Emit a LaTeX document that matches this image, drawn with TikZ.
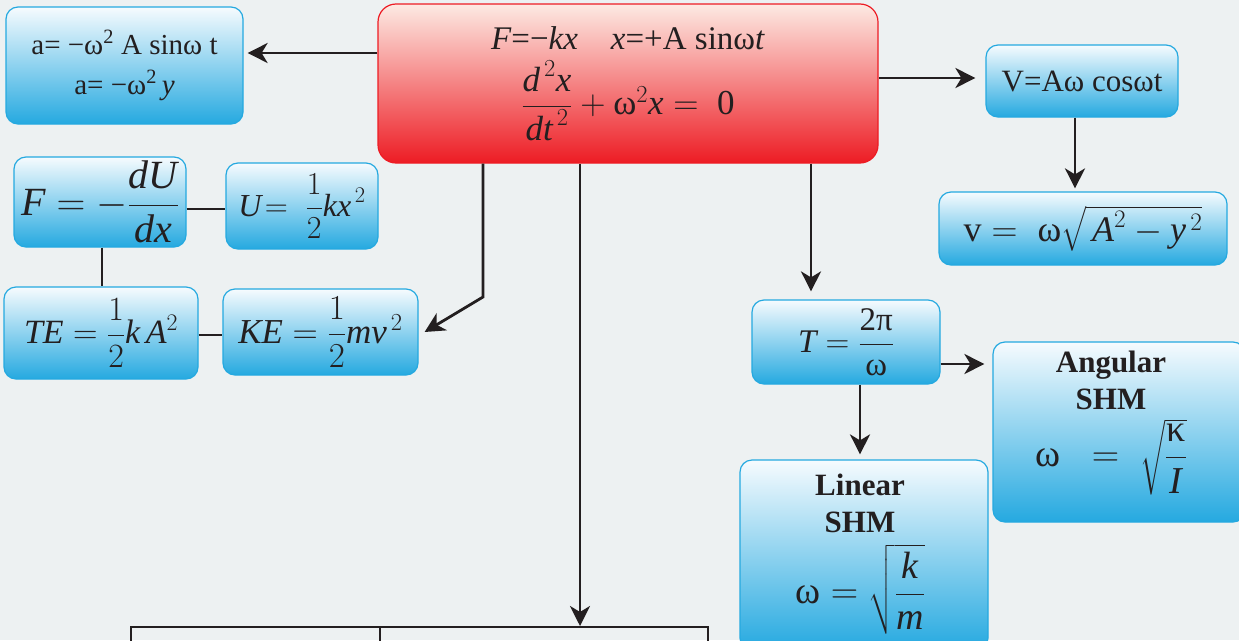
\documentclass[tikz,border=0pt]{standalone}
\usepackage{fix-cm}
\usepackage{amsmath}
\usepackage{fontspec}
\setmainfont{Liberation Serif}
\usetikzlibrary{arrows.meta}
\definecolor{bg}{HTML}{EDF1F2}
\definecolor{bblue}{HTML}{25A9E0}
\definecolor{btop}{HTML}{F6FBFE}
\definecolor{rred}{HTML}{ED1C24}
\definecolor{rtop}{HTML}{FDEAE3}
\definecolor{ink}{HTML}{231F20}
\newcommand{\tw}{\text{ω}}
\newcommand{\fs}[2]{\fontsize{#1}{#2}\selectfont}
\tikzset{
  bluebox/.style={draw=bblue, line width=1.2pt, rounded corners=12pt, top color=btop, bottom color=bblue, inner sep=2pt, align=center, text=ink},
  redbox/.style={draw=rred, line width=1.2pt, rounded corners=18pt, top color=rtop, bottom color=rred, inner sep=2pt, align=center, text=ink},
  txt/.style={inner sep=0pt, align=center, text=ink},
  conn/.style={line width=2.8pt, draw=ink},
  arr/.style={conn, -{Stealth[length=20pt,width=20pt,inset=6pt]}}
}
\begin{document}
\begin{tikzpicture}[x=1pt,y=-1pt]
\clip (0,0) rectangle (1239,640);
\useasboundingbox (0,0) rectangle (1239,640);
\fill[bg] (0,0) rectangle (1239,640);

% boxes
\node[bluebox, minimum width=237pt, minimum height=117pt, font=\fs{29}{40}] (a) at (124.5,65.5)
  {a= −ω\textsuperscript{2} A sinω t\\ a= −ω\textsuperscript{2}\,\textit{y}};
\node[redbox, minimum width=500pt, minimum height=159pt, font=\fs{33}{40}] (red) at (628,83.5)
  {\textit{F}=−\textit{kx}\quad \textit{x}=+A sinω\textit{t}\\[10pt]
   \fs{35}{40}$\dfrac{\textit{d}^{\,2}\textit{x}}{\textit{dt}^{\,2}} + \tw^2\textit{x} = \text{ 0}$};
\node[bluebox, minimum width=192pt, minimum height=72pt, font=\fs{31}{36}] (V) at (1082,81)
  {V=Aω cosωt};
\node[bluebox, minimum width=288pt, minimum height=73pt, font=\fs{36}{40}] (v) at (1083,228.5)
  {$\text{v} =\; \tw\sqrt{\,\textit{A}^2 - \textit{y}^{\,2}}$};
\node[bluebox, minimum width=172pt, minimum height=90pt, font=\fs{40}{44}] (F) at (100,202)
  {$\textit{F} = -\dfrac{\textit{dU}}{\textit{dx}}$};
\node[bluebox, minimum width=152pt, minimum height=86pt, font=\fs{32}{36}] (U) at (302,206)
  {$\textit{U}\!=\; \dfrac{1}{2}\textit{kx}^{\,2}$};
\node[bluebox, minimum width=194pt, minimum height=92pt, font=\fs{34}{38}] (TE) at (101,333)
  {$\textit{TE} = \dfrac{1}{2}\textit{k}\,\textit{A}^2$};
\node[bluebox, minimum width=195pt, minimum height=86pt, font=\fs{35}{40}] (KE) at (320.5,332)
  {$\textit{KE} = \dfrac{1}{2}\textit{mv}^{\,2}$};
\node[bluebox, minimum width=188pt, minimum height=84pt, font=\fs{33}{38}] (T) at (846,342)
  {$\textit{T} = \dfrac{\text{2π}}{\tw}$};
\node[bluebox, minimum width=252pt, minimum height=180pt] (ang) at (1119,432) {};
\node[txt, anchor=north, font=\fs{31}{37}\bfseries] (angT) at (1111,351)
  {Angular\\SHM\\[8pt]
   \fs{38}{42}\mdseries $\tw\;\;=\;\sqrt{\dfrac{\text{κ}}{\textit{I}}}$};
\node[bluebox, minimum width=248pt, minimum height=190pt] (lin) at (864,555) {};
\node[txt, anchor=north, font=\fs{31}{37}\bfseries] (linT) at (860,474)
  {Linear\\SHM\\[10pt]
   \fs{38}{42}\mdseries $\tw = \sqrt{\dfrac{\textit{k}}{\textit{m}}}$};

% table at bottom
\draw[line width=2.6pt, draw=ink] (131,645) -- (131,627) -- (708,627) -- (708,645);
\draw[line width=2.6pt, draw=ink] (380,627) -- (380,645);
\coordinate (tabtop) at (580,626);

% connectors
\draw[arr, shorten >=4pt] (red.west |- 0,53) -- (a.east |- 0,53);
\draw[arr, shorten >=10pt] (red.east |- 0,78) -- (V.west |- 0,78);
\draw[arr, shorten >=3pt] (V.south -| 1075,0) -- (v.north -| 1075,0);
\draw[arr] (red.south -| 483,0) -- (483,297) -- ([xshift=6pt]KE.east);
\draw[arr] (red.south -| 580,0) -- (tabtop);
\draw[arr, shorten >=8pt] (red.south -| 811,0) -- (T.north -| 811,0);
\draw[conn] (F.east |- 0,209) -- (U.west |- 0,209);
\draw[conn] (F.south -| 102,0) -- (TE.north -| 102,0);
\draw[conn] (TE.east |- 0,335) -- (KE.west |- 0,335);
\draw[arr, shorten >=8pt] (T.east |- 0,364) -- (ang.west |- 0,364);
\draw[arr, shorten >=5pt] (T.south -| 860,0) -- (lin.north -| 860,0);
\end{tikzpicture}
\end{document}
